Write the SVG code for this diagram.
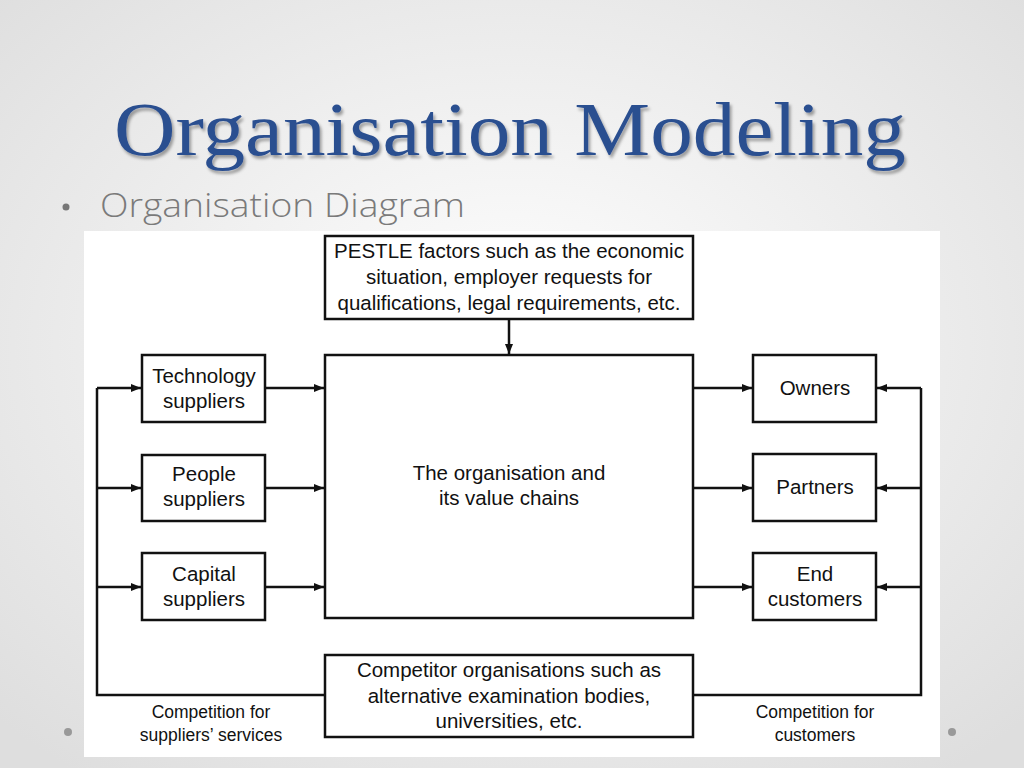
<svg xmlns="http://www.w3.org/2000/svg" width="1024" height="768" viewBox="0 0 1024 768">
<defs>
<radialGradient id="bg" cx="50%" cy="45%" r="70%"><stop offset="0" stop-color="#ffffff"/><stop offset="1" stop-color="#dedede"/></radialGradient>
<marker id="ah" markerWidth="10" markerHeight="8" refX="10" refY="4" orient="auto" markerUnits="userSpaceOnUse"><path d="M0,0 L10,4 L0,8 z" fill="#111"/></marker>
<filter id="sh"><feDropShadow dx="2" dy="3" stdDeviation="1.5" flood-color="#000" flood-opacity="0.35"/></filter>
</defs>
<style>
.b{fill:#fff;stroke:#111;stroke-width:2.5}
.t{font-family:"Liberation Sans",Arial,sans-serif;font-size:20.5px;fill:#111;text-anchor:middle}
.s{font-family:"Liberation Sans",Arial,sans-serif;font-size:17.5px;fill:#111;text-anchor:middle}
.c{fill:none;stroke:#111;stroke-width:2.5}
</style>
<rect width="1024" height="768" fill="url(#bg)"/>
<text x="114" y="155" textLength="792" lengthAdjust="spacingAndGlyphs" font-family="Liberation Serif,'Times New Roman',serif" font-size="76" fill="#2c4f90" filter="url(#sh)">Organisation Modeling</text>
<circle cx="66" cy="207" r="3.5" fill="#777"/>
<text x="100" y="217" textLength="365" lengthAdjust="spacingAndGlyphs" font-family="'Open Sans','Liberation Sans',sans-serif" font-weight="300" font-size="33" fill="#7a7a7a">Organisation Diagram</text>
<circle cx="68" cy="732" r="4" fill="#999"/>
<circle cx="952" cy="732" r="4" fill="#999"/>
<rect x="84" y="231" width="856" height="526" fill="#fff"/>
<g id="pestle"><rect class="b" x="325" y="236" width="368" height="83"/>
<text class="t" x="509" y="258">PESTLE factors such as the economic</text>
<text class="t" x="509" y="284">situation, employer requests for</text>
<text class="t" x="509" y="310">qualifications, legal requirements, etc.</text></g>
<g id="org"><rect class="b" x="325" y="355" width="368" height="263"/>
<text class="t" x="509" y="480">The organisation and</text>
<text class="t" x="509" y="505">its value chains</text></g>
<g id="tech"><rect class="b" x="142" y="355" width="123" height="67"/>
<text class="t" x="204" y="383">Technology</text><text class="t" x="204" y="408">suppliers</text></g>
<g id="people"><rect class="b" x="142" y="455" width="123" height="66"/>
<text class="t" x="204" y="481">People</text><text class="t" x="204" y="506">suppliers</text></g>
<g id="capital"><rect class="b" x="142" y="553" width="123" height="67"/>
<text class="t" x="204" y="581">Capital</text><text class="t" x="204" y="606">suppliers</text></g>
<g id="owners"><rect class="b" x="753" y="355" width="123" height="67"/>
<text class="t" x="815" y="395">Owners</text></g>
<g id="partners"><rect class="b" x="753" y="454" width="123" height="67"/>
<text class="t" x="815" y="494">Partners</text></g>
<g id="endcust"><rect class="b" x="753" y="553" width="123" height="67"/>
<text class="t" x="815" y="581">End</text><text class="t" x="815" y="606">customers</text></g>
<g id="competitor"><rect class="b" x="325" y="655" width="368" height="82"/>
<text class="t" x="509" y="677">Competitor organisations such as</text>
<text class="t" x="509" y="703">alternative examination bodies,</text>
<text class="t" x="509" y="728">universities, etc.</text></g>
<g id="connectors">
<line class="c" x1="509" y1="319" x2="509" y2="354" marker-end="url(#ah)"/>
<line class="c" x1="265" y1="388" x2="324" y2="388" marker-end="url(#ah)"/>
<line class="c" x1="265" y1="488" x2="324" y2="488" marker-end="url(#ah)"/>
<line class="c" x1="265" y1="587" x2="324" y2="587" marker-end="url(#ah)"/>
<line class="c" x1="693" y1="388" x2="752" y2="388" marker-end="url(#ah)"/>
<line class="c" x1="693" y1="488" x2="752" y2="488" marker-end="url(#ah)"/>
<line class="c" x1="693" y1="587" x2="752" y2="587" marker-end="url(#ah)"/>
<polyline class="c" points="325,695 97,695 97,388"/>
<line class="c" x1="97" y1="388" x2="141" y2="388" marker-end="url(#ah)"/>
<line class="c" x1="97" y1="488" x2="141" y2="488" marker-end="url(#ah)"/>
<line class="c" x1="97" y1="587" x2="141" y2="587" marker-end="url(#ah)"/>
<polyline class="c" points="693,695 921,695 921,388"/>
<line class="c" x1="921" y1="388" x2="877" y2="388" marker-end="url(#ah)"/>
<line class="c" x1="921" y1="488" x2="877" y2="488" marker-end="url(#ah)"/>
<line class="c" x1="921" y1="587" x2="877" y2="587" marker-end="url(#ah)"/>
</g>
<text class="s" x="211" y="718">Competition for</text>
<text class="s" x="211" y="741">suppliers’ services</text>
<text class="s" x="815" y="718">Competition for</text>
<text class="s" x="815" y="741">customers</text>
</svg>
